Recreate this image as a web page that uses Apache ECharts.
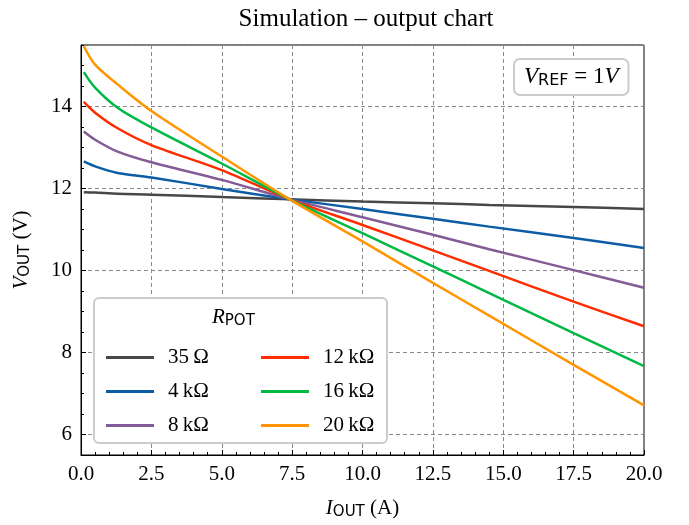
<!DOCTYPE html>
<html>

<head>
    <meta charset="utf-8">
    <script src="https://cdn.jsdelivr.net/npm/echarts@6/dist/echarts.min.js"></script>
</head>

<body style="margin:0">
    <div id="main" style="width:689px;height:525px;"></div>

    <script>
        // I_OUT values where the curves were read
        var current = [0.1, 0.5, 1.3, 2.5, 5, 7.4, 10, 12.5, 14.5, 17.5, 20];
        var names = ['35\u2009Ω', '4\u2009kΩ', '8\u2009kΩ', '12\u2009kΩ', '16\u2009kΩ', '20\u2009kΩ'];
        var colors = ['#474747', '#0c5da5', '#845b97', '#ff2c00', '#00b945', '#ff9500'];
        var v35 = [11.91, 11.90, 11.87, 11.85, 11.79, 11.74, 11.68, 11.64, 11.60, 11.55, 11.50];
        var v4k = [12.66, 12.54, 12.38, 12.27, 11.99, 11.74, 11.50, 11.26, 11.07, 10.79, 10.55];
        var v8k = [13.39, 13.19, 12.90, 12.64, 12.21, 11.74, 11.30, 10.87, 10.52, 10.01, 9.58];
        var v12k = [14.11, 13.85, 13.47, 13.06, 12.45, 11.74, 11.11, 10.49, 9.99, 9.24, 8.64];
        var v16k = [14.84, 14.46, 13.97, 13.49, 12.61, 11.74, 10.91, 10.10, 9.45, 8.47, 7.67];
        var v20k = [15.47, 15.02, 14.54, 13.89, 12.78, 11.74, 10.71, 9.70, 8.90, 7.70, 6.71];
        var values = [v35, v4k, v8k, v12k, v16k, v20k];
        var yLabels = [6, 8, 10, 12, 14];

        var serif = '"Liberation Serif", "DejaVu Serif", serif';
        var sans = '"DejaVu Sans", sans-serif';
        var myChart = echarts.init(document.getElementById('main'));

        var series = names.map(function (n, i) {
            return {
                name: n,
                type: 'line',
                symbol: 'none',
                smooth: 0.3,
                color: colors[i],
                lineStyle: { width: 2.5 },
                data: current.map(function (x, j) { return [x, values[i][j]]; })
            };
        });

        var nameRich = {
            i: { fontFamily: serif, fontStyle: 'italic', fontSize: 21, color: '#000' },
            s: { fontFamily: sans, fontSize: 15, color: '#000', verticalAlign: 'bottom', padding: [8, 0, 0, 0] },
            n: { fontFamily: serif, fontSize: 21, color: '#000' }
        };

        var option = {
            animation: false,
            backgroundColor: '#fff',
            title: {
                text: 'Simulation – output chart',
                left: 361, top: 2, textAlign: 'center',
                textStyle: { fontFamily: serif, fontSize: 25, fontWeight: 'normal', color: '#000' }
            },
            grid: {
                left: 81, right: 45, top: 45, bottom: 68,
                show: true, borderColor: '#000', borderWidth: 1
            },
            xAxis: {
                type: 'value', min: 0, max: 20, interval: 2.5,
                name: '{i|I}{s|OUT}{n| (A)}',
                nameLocation: 'middle', nameGap: 42,
                nameTextStyle: { rich: nameRich },
                axisLine: { lineStyle: { color: '#000', width: 1 } },
                axisTick: { inside: true, length: 5, lineStyle: { color: '#000' } },
                minorTick: { show: true, splitNumber: 5, length: 3, lineStyle: { color: '#000' } },
                axisLabel: {
                    margin: 9, fontFamily: serif, fontSize: 21, color: '#000',
                    formatter: function (v) { return v.toFixed(1); }
                },
                splitLine: { show: true, lineStyle: { color: '#888', type: [4, 3], width: 1 } }
            },
            yAxis: [{
                type: 'value', min: 5.5, max: 15.5, splitNumber: 5,
                name: '{i|V}{s|OUT}{n| (V)}',
                nameLocation: 'middle', nameGap: 48, nameRotate: 90,
                nameTextStyle: { rich: nameRich },
                axisLine: { show: true, lineStyle: { color: '#000', width: 1 } },
                axisTick: { inside: true, length: 5, lineStyle: { color: '#000' } },
                minorTick: { show: false },
                axisLabel: {
                    margin: 9, fontFamily: serif, fontSize: 21, color: '#000',
                    showMinLabel: false, showMaxLabel: false,
                    formatter: function (v) { return yLabels.indexOf(v) >= 0 ? String(v) : ''; }
                },
                splitLine: { show: true, lineStyle: { color: '#888', type: [4, 3], width: 1 } }
            }, {
                // minor ticks every 0.5
                type: 'value', min: 5.5, max: 15.5, interval: 0.5, position: 'left',
                axisLine: { show: false },
                axisTick: { inside: true, length: 3, lineStyle: { color: '#000' } },
                axisLabel: { show: false },
                splitLine: { show: false }
            }],
            legend: [{
                data: names.slice(0, 3),
                orient: 'vertical', left: 101, top: 342, itemGap: 13,
                icon: 'rect', itemWidth: 48, itemHeight: 3, z: 20,
                textStyle: { fontFamily: serif, fontSize: 21, color: '#000', padding: [0, 0, 0, 9] }
            }, {
                data: names.slice(3),
                orient: 'vertical', left: 256, top: 342, itemGap: 13,
                icon: 'rect', itemWidth: 48, itemHeight: 3, z: 20,
                textStyle: { fontFamily: serif, fontSize: 21, color: '#000', padding: [0, 0, 0, 9] }
            }],
            graphic: [{
                type: 'rect', z: 10,
                shape: { x: 94, y: 298, width: 293, height: 145, r: 5 },
                style: { fill: '#fff', stroke: '#ccc', lineWidth: 2 }
            }, {
                type: 'text', z: 20, left: 212, top: 307,
                style: {
                    text: '{i|R}{s|POT}',
                    rich: {
                        i: { fontFamily: serif, fontStyle: 'italic', fontSize: 21, fill: '#000' },
                        s: { fontFamily: sans, fontSize: 15, fill: '#000', verticalAlign: 'bottom', padding: [8, 0, 0, 0] }
                    }
                }
            }, {
                type: 'text', z: 20, left: 513, top: 58,
                style: {
                    text: '{i|V}{s|REF}{n| = 1}{i|V}',
                    backgroundColor: '#fff', borderColor: '#ccc', borderWidth: 2, borderRadius: 5,
                    padding: [5, 9, 5, 9],
                    rich: {
                        i: { fontFamily: serif, fontStyle: 'italic', fontSize: 23, fill: '#000' },
                        s: { fontFamily: sans, fontSize: 16, fill: '#000', verticalAlign: 'bottom', padding: [8, 0, 0, 0] },
                        n: { fontFamily: serif, fontSize: 23, fill: '#000' }
                    }
                }
            }],
            series: series
        };

        myChart.setOption(option);
    </script>
</body>

</html>
